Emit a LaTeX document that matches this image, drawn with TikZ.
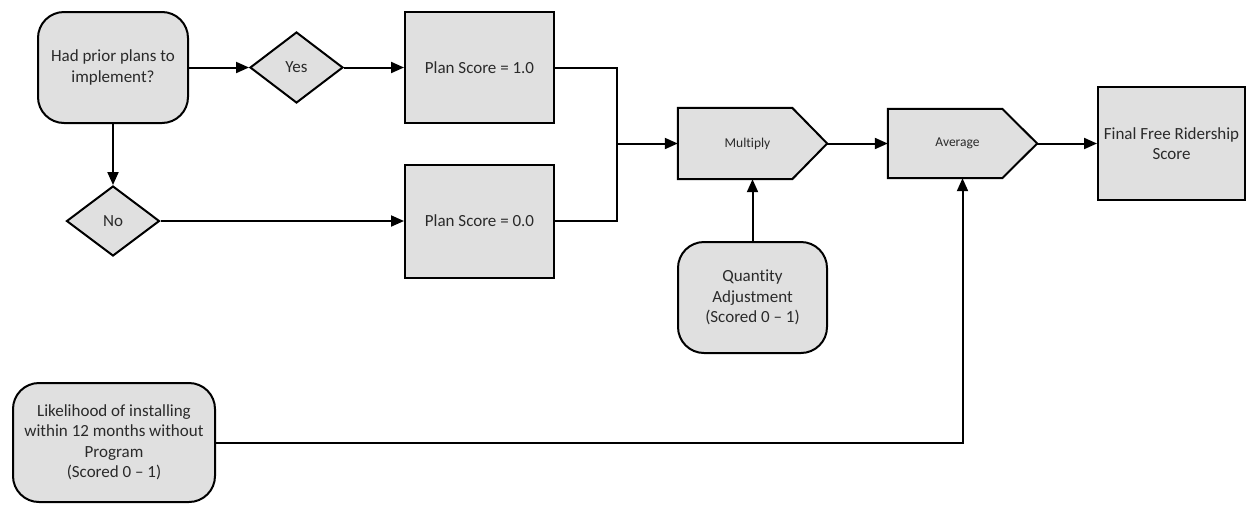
\documentclass[tikz,border=0pt]{standalone}
\usepackage{fontspec}
\setmainfont{Carlito}[Ligatures=NoCommon]
\usetikzlibrary{shapes.geometric,arrows.meta,backgrounds}
\definecolor{boxfill}{HTML}{E0E0E0}
\definecolor{txt}{HTML}{2A2A2A}
\tikzset{
  base/.style={draw=black, line width=2pt, fill=boxfill, text=txt, align=center, inner sep=2pt,
     font=\fontsize{17}{20.5}\selectfont},
  roundbox/.style={base, rectangle, rounded corners=26pt},
  sqbox/.style={base, rectangle},
  decision/.style={base, diamond, inner sep=0pt},
  pent/.style={rectangle, text=txt, inner sep=0pt, font=\fontsize{13.5}{16}\selectfont},
  pentline/.style={draw=black, line width=2pt, fill=boxfill, line join=miter},
  conn/.style={draw=black, line width=2pt},
  arr/.style={conn, -{Triangle[length=13pt,width=11pt]}},
}
\begin{document}
\begin{tikzpicture}[x=1pt,y=-1pt]
\useasboundingbox (0,0) rectangle (1246,504);
\node[roundbox, minimum width=150pt, minimum height=111pt] (had) at (113,67.5) {Had prior plans to\\implement?};
\node[decision, minimum width=93pt, minimum height=71pt] (yes) at (296.5,67.5) {Yes};
\node[decision, minimum width=93pt, minimum height=70pt] (no) at (113,221) {No};
\node[sqbox, minimum width=149pt, minimum height=111pt] (p1) at (479.5,67.5) {Plan Score = 1.0};
\node[sqbox, minimum width=149pt, minimum height=113pt] (p0) at (479.5,221) {Plan Score = 0.0};
\node[pent, minimum width=149pt, minimum height=71pt] (mul) at (752.5,143.5) {\hspace*{-10pt}Multiply};
\node[roundbox, minimum width=149pt, minimum height=111pt] (qty) at (752.5,297.5) {Quantity\\Adjustment\\(Scored 0 -- 1)};
\node[pent, minimum width=149pt, minimum height=69pt] (avg) at (962.5,143.5) {\hspace*{-10pt}Average};
\node[sqbox, minimum width=147pt, minimum height=113pt] (fin) at (1171.5,143.5) {Final Free Ridership\\Score};
\node[roundbox, minimum width=202pt, minimum height=119pt] (lik) at (114,442.5) {Likelihood of installing\\within 12 months without\\Program\\(Scored 0 -- 1)};
\begin{pgfonlayer}{background}
\draw[pentline] (mul.north west) -- ([xshift=-35pt]mul.north east) -- (mul.east) -- ([xshift=-35pt]mul.south east) -- (mul.south west) -- cycle;
\draw[pentline] (avg.north west) -- ([xshift=-35pt]avg.north east) -- (avg.east) -- ([xshift=-35pt]avg.south east) -- (avg.south west) -- cycle;
\end{pgfonlayer}
\coordinate (j) at (617,143.5);
\draw[arr] (had.east) -- (yes.west);
\draw[arr] (yes.east) -- (p1.west);
\draw[arr] (had.south) -- (no.north);
\draw[arr] (no.east) -- (p0.west);
\draw[conn] (p1.east) -| (j) |- (p0.east);
\draw[arr] (j) -- (mul.west);
\draw[arr] (qty.north) -- (mul.south);
\draw[arr] (mul.east) -- (avg.west);
\draw[arr] (avg.east) -- (fin.west);
\draw[arr] (lik.east) -| (avg.south);
\end{tikzpicture}
\end{document}
